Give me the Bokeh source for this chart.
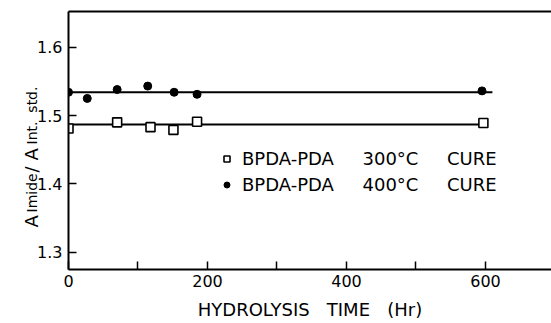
import math
from bokeh.plotting import figure
from bokeh.layouts import row
from bokeh.models import (FixedTicker, LinearAxis, Range1d, Legend, LegendItem)
from bokeh.core.properties import value
from bokeh.embed import file_html
from bokeh.resources import INLINE

# ---- data ----
t_300 = [0, 70, 118, 151, 185, 597]
r_300 = [1.481, 1.490, 1.483, 1.479, 1.491, 1.489]
t_400 = [0, 27, 70, 114, 152, 185, 595]
r_400 = [1.534, 1.525, 1.538, 1.543, 1.534, 1.531, 1.536]
fit_300_x = [0, 597]
fit_300_y = [1.487, 1.487]
fit_400_x = [0, 610]
fit_400_y = [1.534, 1.534]
x_ticks = [0, 200, 400, 600]
x_minor_ticks = [100, 300, 500]
y_ticks = [1.3, 1.4, 1.5, 1.6]
y_tick_labels = ["1.3", "1.4", "1.5", "1.6"]
label_300 = "BPDA-PDA\u00a0\u00a0\u00a0\u00a0\u00a0300\u00b0C\u00a0\u00a0\u00a0\u00a0\u00a0CURE"
label_400 = "BPDA-PDA\u00a0\u00a0\u00a0\u00a0\u00a0400\u00b0C\u00a0\u00a0\u00a0\u00a0\u00a0CURE"
x_title = "HYDROLYSIS\u00a0\u00a0\u00a0TIME\u00a0\u00a0\u00a0(Hr)"
y_title_main = ["A", "/", "A"]
y_title_sub = ["Imide", "Int.\u00a0\u00a0std."]

FONT = "DejaVu Sans"
SIDE_W = 62
H = 323
TOP, BOTTOM = 11, 54

yr = Range1d(1.275, 1.652)

p = figure(width=551 - SIDE_W, height=H, output_backend="svg",
           toolbar_location=None,
           x_range=Range1d(0, 695), y_range=yr,
           min_border_left=6, min_border_right=0, min_border_top=TOP,
           min_border_bottom=BOTTOM, background_fill_color="white",
           border_fill_color="white")
p.outline_line_color = None
p.xgrid.visible = False
p.ygrid.visible = False

for ax in (p.xaxis[0], p.yaxis[0]):
    ax.axis_line_width = 2
    ax.axis_line_color = "black"
    ax.major_tick_line_width = 1.5
    ax.major_tick_line_color = "black"
    ax.major_tick_in = 8
    ax.major_tick_out = 0
    ax.minor_tick_line_width = 1.5
    ax.minor_tick_line_color = "black"
    ax.minor_tick_in = 8
    ax.minor_tick_out = 0
    ax.major_label_text_font = FONT
    ax.major_label_text_font_size = "16px"
    ax.major_label_text_color = "black"
    ax.major_label_standoff = 5

p.xaxis[0].ticker = FixedTicker(ticks=x_ticks, minor_ticks=x_minor_ticks)
p.xaxis[0].axis_label = x_title
p.xaxis[0].axis_label_text_font = FONT
p.xaxis[0].axis_label_text_font_size = "18px"
p.xaxis[0].axis_label_text_font_style = "normal"
p.xaxis[0].axis_label_text_color = "black"
p.xaxis[0].axis_label_standoff = 9

# y tick marks only (their labels are drawn in the side panel)
p.yaxis[0].ticker = FixedTicker(ticks=[], minor_ticks=y_ticks)
p.yaxis[0].major_label_standoff = 0

top = LinearAxis(ticker=FixedTicker(ticks=[]), axis_line_width=2,
                 major_tick_line_color=None, minor_tick_line_color=None,
                 major_label_text_font_size="0px")
p.add_layout(top, "above")

p.line(fit_400_x, fit_400_y, line_color="black", line_width=2)
p.line(fit_300_x, fit_300_y, line_color="black", line_width=2)
r_open = p.scatter(t_300, r_300, marker="square", size=9, fill_color="white",
                   line_color="black", line_width=1.6)
r_fill = p.scatter(t_400, r_400, marker="circle", size=8, fill_color="black",
                   line_color="black")

legend = Legend(items=[LegendItem(label=label_300, renderers=[r_open]),
                       LegendItem(label=label_400, renderers=[r_fill])],
                location=(151, 74), glyph_width=15, glyph_height=15,
                label_standoff=8, spacing=5, padding=0, margin=0,
                label_text_font=FONT, label_text_font_size="18px",
                label_text_color="black",
                label_height=20, border_line_color=None,
                background_fill_alpha=0)
p.add_layout(legend, "center")

# ---- side panel: y tick labels + rotated y title with subscripts ----
t = figure(width=SIDE_W, height=H, output_backend="svg", toolbar_location=None,
           x_axis_type=None, y_axis_type=None,
           x_range=Range1d(0, SIDE_W), y_range=yr,
           min_border_left=0, min_border_right=0, min_border_top=TOP,
           min_border_bottom=BOTTOM, background_fill_color="white",
           border_fill_color="white")
t.extra_y_ranges = {"px": Range1d(H - BOTTOM, TOP)}
t.grid.visible = False
t.outline_line_color = None

t.text(x=[SIDE_W] * len(y_ticks), y=y_ticks, text=y_tick_labels,
       text_font=value(FONT), text_font_size="16px", text_align="right",
       text_baseline="middle", text_color="black")
t.text(x=[31, 31, 31], y=[227, 172, 160], y_range_name="px", text=y_title_main,
       angle=math.pi / 2, text_font=value(FONT), text_font_size="18px",
       text_align="left", text_baseline="alphabetic", text_color="black")
t.text(x=[31, 31], y=[212, 144], y_range_name="px", text=y_title_sub,
       angle=math.pi / 2, text_font=value(FONT), text_font_size="14px",
       text_align="left", text_baseline="alphabetic", text_color="black")

layout = row(t, p, spacing=0)
open("out.html", "w").write(file_html(layout, INLINE))
